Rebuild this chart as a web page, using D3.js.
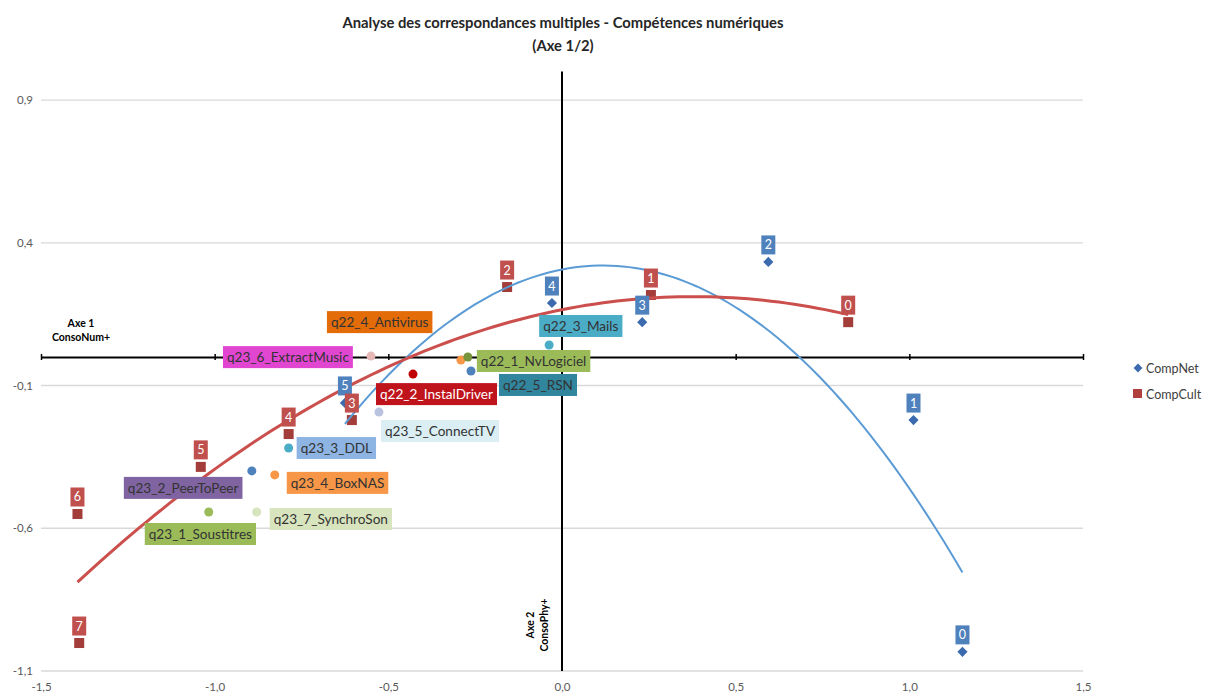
<!DOCTYPE html>
<html><head><meta charset="utf-8">
<script src="https://cdnjs.cloudflare.com/ajax/libs/d3/7.8.5/d3.min.js"></script>
<style>
body{margin:0;background:#fff;}
svg{display:block;font-family:Lato,"Open Sans",sans-serif;}
</style></head>
<body><svg id="c" width="1215" height="695"></svg>
<script>
// ---- data ----
const xTicks = [-1.5, -1.0, -0.5, 0.0, 0.5, 1.0, 1.5];
const yTicks = [-1.1, -0.6, -0.1, 0.4, 0.9];

const compNetLabels = ["0","1","2","3","4","5"];
const compNetX = [1.153, 1.012, 0.594, 0.231, -0.029, -0.625];
const compNetY = [-1.033, -0.221, 0.333, 0.122, 0.189, -0.161];

const compCultLabels = ["0","1","2","3","4","5","6","7"];
const compCultX = [0.824, 0.256, -0.158, -0.605, -0.787, -1.040, -1.395, -1.390];
const compCultY = [0.122, 0.217, 0.245, -0.221, -0.270, -0.385, -0.550, -1.002];

const varNames = ["q23_6_ExtractMusic","q22_2_InstalDriver","q23_5_ConnectTV","q22_4_Antivirus",
  "q22_1_NvLogiciel","q22_5_RSN","q22_3_Mails","q23_3_DDL","q23_2_PeerToPeer","q23_4_BoxNAS",
  "q23_1_Soustitres","q23_7_SynchroSon"];
const varX = [-0.550, -0.429, -0.527, -0.291, -0.271, -0.262, -0.037, -0.787, -0.893, -0.827, -1.017, -0.879];
const varY = [0.003, -0.060, -0.193, -0.011, 0.000, -0.049, 0.042, -0.319, -0.399, -0.413, -0.543, -0.543];

// ---- styles / layout ----
const varPointColor = ["#E6B9B8","#C00000","#B9C3E0","#F79646","#77933C","#4F81BD","#4BACC6","#4BACC6","#4F81BD","#F79646","#9BBB59","#D7E4BD"];
const varBoxColor = ["#E046D0","#C0141C","#DAEEF3","#E36C09","#9BBB59","#31859C","#4BACC6","#8DB4E2","#8064A2","#F79646","#9BBB59","#D7E4BD"];
const varTextColor = ["#333","#fff","#333","#333","#333","#333","#333","#333","#333","#333","#333","#333"];
const varLabelOffset = [[-148,-10],[-37,9],[2,8],[-134,-49],[9,-7],[28,3],[-10,-30],[8,-11],[-128,6],[12,-3],[-64,11],[13,-4]];

const svg = d3.select("#c");
const x = d3.scaleLinear().domain([-1.5, 1.5]).range([41, 1083]);
const y = d3.scaleLinear().domain([-1.1, 1.0]).range([671, 71.5]);
const fmt = d => d3.format(".1f")(d).replace(".", ",").replace("−","-");

// title
svg.append("text").attr("x", 563).attr("y", 28).attr("text-anchor","middle")
  .attr("font-size", 14.8).attr("font-weight","bold").attr("fill","#262626")
  .text("Analyse des correspondances multiples - Compétences numériques");
svg.append("text").attr("x", 563).attr("y", 51).attr("text-anchor","middle")
  .attr("font-size", 14.8).attr("font-weight","bold").attr("fill","#262626")
  .text("(Axe 1/2)");

// gridlines
svg.append("g").selectAll("line").data(yTicks).join("line")
  .attr("x1", x(-1.5)).attr("x2", x(1.5)).attr("y1", d=>y(d)).attr("y2", d=>y(d))
  .attr("stroke","#D9D9D9").attr("stroke-width",1.3);

// axis labels
const xa = svg.append("g").attr("transform", `translate(0,${y(-1.1)})`)
  .call(d3.axisBottom(x).tickValues(xTicks).tickFormat(fmt).tickSize(0).tickPadding(12));
xa.select(".domain").remove();
xa.selectAll("text").attr("fill","#595959").attr("font-size",11.5).attr("font-family","Lato,sans-serif");
const ya = svg.append("g").attr("transform", `translate(33,0)`)
  .call(d3.axisLeft(y).tickValues(yTicks).tickFormat(fmt).tickSize(0).tickPadding(0));
ya.select(".domain").remove();
ya.selectAll("text").attr("fill","#595959").attr("font-size",11.5).attr("font-family","Lato,sans-serif");

// zero axes
const zx = svg.append("g").attr("transform", `translate(0,${y(0)})`)
  .call(d3.axisBottom(x).tickValues(xTicks).tickFormat("").tickSizeInner(3).tickSizeOuter(0));
zx.select(".domain").attr("stroke","#000").attr("stroke-width",2);
zx.selectAll(".tick line").attr("stroke","#000").attr("stroke-width",1.5).attr("y1",-3);
svg.append("line").attr("x1", x(0)).attr("x2", x(0)).attr("y1", y(1.0)).attr("y2", y(-1.1))
  .attr("stroke","#000").attr("stroke-width",2);

// axis captions
svg.append("text").attr("x", 81).attr("y", 327).attr("text-anchor","middle")
  .attr("font-size",10.5).attr("font-weight","bold").attr("fill","#000").text("Axe 1");
svg.append("text").attr("x", 81).attr("y", 341).attr("text-anchor","middle")
  .attr("font-size",10.5).attr("font-weight","bold").attr("fill","#000").text("ConsoNum+");
const a2 = svg.append("g").attr("transform", "translate(537,625) rotate(-90)");
a2.append("text").attr("x",0).attr("y",-3).attr("text-anchor","middle")
  .attr("font-size",10.5).attr("font-weight","bold").attr("fill","#000").text("Axe 2");
a2.append("text").attr("x",0).attr("y",11).attr("text-anchor","middle")
  .attr("font-size",10.5).attr("font-weight","bold").attr("fill","#000").text("ConsoPhy+");

// quadratic least-squares fit (polynomial trendline)
function quadFit(xs, ys){
  let S=[0,0,0,0,0], T=[0,0,0];
  xs.forEach((xv,i)=>{ for(let k=0;k<5;k++) S[k]+=Math.pow(xv,k); for(let k=0;k<3;k++) T[k]+=ys[i]*Math.pow(xv,k); });
  const A=[[S[0],S[1],S[2],T[0]],[S[1],S[2],S[3],T[1]],[S[2],S[3],S[4],T[2]]];
  for(let i=0;i<3;i++){ for(let j=i+1;j<3;j++){ const f=A[j][i]/A[i][i]; for(let k=i;k<4;k++) A[j][k]-=f*A[i][k]; } }
  const c=[0,0,0];
  for(let i=2;i>=0;i--){ let s=A[i][3]; for(let k=i+1;k<3;k++) s-=A[i][k]*c[k]; c[i]=s/A[i][i]; }
  return xv => c[0]+c[1]*xv+c[2]*xv*xv;
}
function trend(xs, ys, color, w){
  const f = quadFit(xs, ys);
  const lo = d3.min(xs), hi = d3.max(xs);
  const pts = d3.range(0, 101).map(i => lo + (hi-lo)*i/100);
  svg.append("path").datum(pts)
    .attr("d", d3.line().x(d=>x(d)).y(d=>y(f(d))))
    .attr("fill","none").attr("stroke",color).attr("stroke-width",w);
}

// variable points
const vg = svg.append("g");
varNames.forEach((n,i)=>{
  vg.append("circle").attr("cx", x(varX[i])).attr("cy", y(varY[i])).attr("r",4.5).attr("fill",varPointColor[i]);
});

// series markers
const diamond = d3.symbol().type(d3.symbolDiamond2).size(66);
compNetX.forEach((xv,i)=>{
  svg.append("path").attr("d", diamond()).attr("transform",`translate(${x(xv)},${y(compNetY[i])})`).attr("fill","#3C6AAE");
});
compCultX.forEach((xv,i)=>{
  svg.append("rect").attr("x", x(xv)-5).attr("y", y(compCultY[i])-5).attr("width",10).attr("height",10).attr("fill","#A33D3A");
});

trend(compNetX, compNetY, "#5B9BD5", 2);
trend(compCultX, compCultY, "#CB4F4C", 3);

// number labels
function numLabel(xv, yv, t, color){
  const cx = x(xv), cy = y(yv) - 17;
  svg.append("rect").attr("x", cx-7).attr("y", cy-9.5).attr("width",14).attr("height",19).attr("fill",color);
  svg.append("text").attr("x", cx).attr("y", cy+4.5).attr("text-anchor","middle").attr("font-size",12.5)
    .attr("fill","#fff").text(t);
}
compNetX.forEach((xv,i)=> numLabel(xv, compNetY[i], compNetLabels[i], "#4F81BD"));
compCultX.forEach((xv,i)=> numLabel(xv, compCultY[i], compCultLabels[i], "#C0504D"));

// variable labels
varNames.forEach((n,i)=>{
  const bx = x(varX[i]) + varLabelOffset[i][0], by = y(varY[i]) + varLabelOffset[i][1];
  const g = svg.append("g");
  const r = g.append("rect").attr("x",bx).attr("y",by).attr("height",22).attr("fill",varBoxColor[i]);
  const t = g.append("text").attr("x",bx+4).attr("y",by+16).attr("font-size",13.6).attr("fill",varTextColor[i]).text(n);
  r.attr("width", t.node().getComputedTextLength()+8);
});

// legend
svg.append("path").attr("d", d3.symbol().type(d3.symbolDiamond2).size(50)()).attr("transform","translate(1138,368)").attr("fill","#3C6AAE");
svg.append("text").attr("x",1146).attr("y",372.5).attr("font-size",12.5).attr("fill","#404040").text("CompNet");
svg.append("rect").attr("x",1133).attr("y",389).attr("width",9).attr("height",9).attr("fill","#B0403D");
svg.append("text").attr("x",1146).attr("y",398.5).attr("font-size",12.5).attr("fill","#404040").text("CompCult");
</script></body></html>
